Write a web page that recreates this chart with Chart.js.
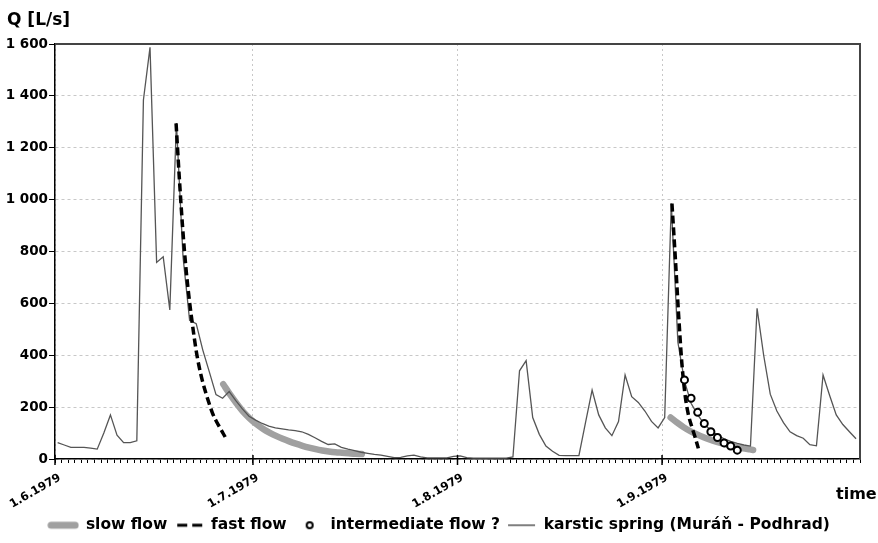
<!DOCTYPE html>
<html>
<head>
<meta charset="utf-8">
<script src="https://cdn.jsdelivr.net/npm/chart.js@4.4.0/dist/chart.umd.min.js"></script>
<style>
html,body{margin:0;padding:0;background:#fff;}
#wrap{width:878px;height:543px;position:relative;}
</style>
</head>
<body>
<div id="wrap"><canvas id="c" width="878" height="543"></canvas></div>
<script>
// ---- data (x = days since 1.6.1979) ----
const monthStartDays = [0, 30, 61, 92];
const monthLabels = ['1.6.1979', '1.7.1979', '1.8.1979', '1.9.1979'];
const axisEndDay = 122;
const yTicks = [0, 200, 400, 600, 800, 1000, 1200, 1400, 1600];

// karstic spring (Muráň - Podhrad), daily discharge 1.6. - 30.9.1979 [L/s]
const springFirstDay = 0.4;
const springQ = [
  63, 54, 45, 45, 45, 42, 38, 100, 170, 92,
  63, 63, 70, 1384, 1587, 758, 780, 575, 1295, 780,
  535, 522, 420, 335, 248, 234, 260, 225, 193, 165,
  150, 137, 127, 120, 116, 112, 109, 105, 95, 82,
  68, 56, 58, 45, 38, 32, 26, 22, 18, 15,
  10, 5, 6, 12, 15, 8, 4, 4, 4, 4,
  10, 12, 5, 3, 3, 3, 3, 3, 3, 8,
  340, 379, 160, 95, 50, 30, 14, 13, 13, 13,
  140, 266, 170, 120, 90, 144, 324, 240, 218, 185,
  145, 120, 160, 985, 450, 300, 215, 170, 135, 110,
  92, 78, 68, 60, 54, 50, 581, 400, 250, 185,
  140, 105, 90, 80, 55, 51, 324, 245, 170, 133,
  105, 78
];

// slow flow (recession, July)
const slowJulDays = [25.5, 26.5, 27.5, 28.5, 29.5, 30.5, 31.5, 32.5, 33.5, 34.5, 35.5,
                     36.5, 37.5, 38.5, 39.5, 40.5, 41.5, 42.5, 43.5, 44.5, 45.5, 46.5];
const slowJulQ = [288, 250, 215, 183, 157, 135, 117, 102, 89, 78, 68,
                  59, 51, 44, 38, 33, 29, 26, 24, 22, 20, 19];
// slow flow (recession, September)
const slowSepDays = [93.3, 94.3, 95.3, 96.3, 97.3, 98.3, 99.3, 100.3, 101.3, 102.3, 103.3, 104.3, 105.3, 105.8];
const slowSepQ = [160, 140, 122, 107, 95, 84, 74, 66, 59, 52, 46, 41, 37, 35];

// fast flow (June)
const fastJunDays = [18.35, 18.85, 19.35, 19.85, 20.35, 20.85, 21.35, 21.85,
                     22.35, 22.85, 23.35, 23.85, 24.35, 24.85, 25.35, 25.85];
const fastJunQ = [1294, 1080, 890, 735, 615, 515, 425, 355, 300, 255, 215, 178, 150, 127, 105, 82];
// fast flow (September)
const fastSepDays = [93.5, 94.0, 94.5, 95.0, 95.5, 96.0, 96.5, 97.0, 97.5];
const fastSepQ = [985, 780, 560, 370, 245, 170, 125, 85, 41];

// intermediate flow ? (September)
const interDays = [95.4, 96.4, 97.4, 98.4, 99.4, 100.4, 101.4, 102.4, 103.4];
const interQ = [305, 234, 180, 137, 105, 83, 62, 50, 34];

const legendNames = ['slow flow', 'fast flow', 'intermediate flow ?', 'karstic spring (Muráň - Podhrad)'];

// ---- helpers ----
const pts = (xs, ys) => xs.map((x, i) => ({x: x, y: ys[i]}));
const gapAfter = (a, b) => a.concat([{x: (a[a.length - 1].x + b[0].x) / 2, y: null}], b);

const springData = springQ.map((q, i) => ({x: springFirstDay + i, y: q}));
const slowData = gapAfter(pts(slowJulDays, slowJulQ), pts(slowSepDays, slowSepQ));
const fastData = gapAfter(pts(fastJunDays, fastJunQ), pts(fastSepDays, fastSepQ));
const interData = pts(interDays, interQ);

function symbol(draw) {
  const c = document.createElement('canvas');
  c.width = 32; c.height = 12;
  const g = c.getContext('2d');
  draw(g);
  return c;
}
const legendSymbols = [
  symbol(g => { g.strokeStyle = '#a0a0a0'; g.lineWidth = 7; g.lineCap = 'round'; g.beginPath(); g.moveTo(4, 6); g.lineTo(28, 6); g.stroke(); }),
  symbol(g => { g.strokeStyle = '#000'; g.lineWidth = 3; g.setLineDash([10, 5]); g.beginPath(); g.moveTo(5, 6); g.lineTo(31, 6); g.stroke(); }),
  symbol(g => { g.strokeStyle = '#000'; g.lineWidth = 2; g.fillStyle = '#fff'; g.beginPath(); g.arc(18, 6, 3, 0, Math.PI * 2); g.fill(); g.stroke(); }),
  symbol(g => { g.strokeStyle = '#555'; g.lineWidth = 1.5; g.beginPath(); g.moveTo(3, 6); g.lineTo(30, 6); g.stroke(); })
];

const fmtThousands = v => v >= 1000 ? Math.floor(v / 1000) + ' ' + String(v % 1000).padStart(3, '0') : String(v);

const plotBottom = 459;

const decor = {
  id: 'decor',
  afterDraw(chart) {
    const {ctx, chartArea: a} = chart;
    ctx.save();
    ctx.strokeStyle = '#444';
    ctx.lineWidth = 2;
    ctx.beginPath();
    ctx.moveTo(a.left, a.top);
    ctx.lineTo(a.right, a.top);
    ctx.lineTo(a.right, a.bottom);
    ctx.stroke();
    // major ticks crossing the axis
    const xs = chart.scales.x;
    ctx.strokeStyle = '#000';
    ctx.lineWidth = 1.5;
    monthStartDays.forEach(d => {
      const px = xs.getPixelForValue(d);
      ctx.beginPath(); ctx.moveTo(px, a.bottom - 4); ctx.lineTo(px, a.bottom + 6); ctx.stroke();
    });
    ctx.fillStyle = '#000';
    ctx.textBaseline = 'alphabetic';
    ctx.textAlign = 'left';
    ctx.font = 'bold 17px "DejaVu Sans"';
    ctx.fillText('Q [L/s]', 7, 25);
    ctx.font = 'bold 16px "DejaVu Sans"';
    ctx.fillText('time', 836, 499);
    ctx.restore();
  }
};

Chart.defaults.font.family = '"DejaVu Sans"';

new Chart(document.getElementById('c'), {
  type: 'line',
  data: {
    datasets: [
      {label: legendNames[0], data: slowData, borderColor: '#a0a0a0', borderWidth: 6.5, borderCapStyle: 'round', borderJoinStyle: 'round', pointRadius: 0, cubicInterpolationMode: 'monotone', spanGaps: false, order: 3},
      {label: legendNames[1], data: fastData, borderColor: '#000', borderWidth: 3.5, borderDash: [8, 4], pointRadius: 0, cubicInterpolationMode: 'monotone', spanGaps: false, order: 1},
      {label: legendNames[2], data: interData, showLine: false, pointRadius: 3.5, pointBorderWidth: 2, pointBorderColor: '#000', pointBackgroundColor: '#fff', order: 0},
      {label: legendNames[3], data: springData, borderColor: '#555', borderWidth: 1.3, pointRadius: 0, tension: 0, order: 2}
    ]
  },
  options: {
    responsive: false,
    animation: false,
    devicePixelRatio: 1,
    layout: {padding: {top: 44, right: 0, left: 0, bottom: 0}},
    plugins: {
      tooltip: {enabled: false},
      legend: {
        position: 'bottom',
        labels: {
          usePointStyle: true,
          pointStyleWidth: 30,
          padding: 6,
          color: '#000',
          font: {size: 15.5, weight: 'bold'},
          generateLabels: () => legendNames.map((t, i) => ({
            text: t, pointStyle: legendSymbols[i], fillStyle: '#000', strokeStyle: '#000',
            lineWidth: 0, hidden: false, datasetIndex: i, fontColor: '#000'
          }))
        }
      }
    },
    scales: {
      x: {
        type: 'linear',
        min: 0,
        max: axisEndDay,
        afterBuildTicks: s => { const t = []; for (let d = 0; d <= axisEndDay; d++) t.push({value: d}); s.ticks = t; },
        afterFit: s => {
          const lh = s.chart.legend ? s.chart.legend.height : 31.5;
          s.height = s.chart.height - lh - plotBottom;
          s.paddingLeft = 0; s.paddingRight = 18;
        },
        ticks: {
          autoSkip: false, minRotation: 30, maxRotation: 30, color: '#000', padding: 8, labelOffset: 5,
          font: {size: 11.5, weight: 'bold'},
          callback: v => { const k = monthStartDays.indexOf(v); return k >= 0 ? monthLabels[k] : ''; }
        },
        grid: {
          color: c => (c.tick && monthStartDays.indexOf(c.tick.value) >= 0) ? '#c8c8c8' : 'rgba(0,0,0,0)',
          tickColor: '#000', tickLength: 4, tickBorderDash: [], lineWidth: 1
        },
        border: {color: '#000', width: 1.5, dash: [2, 3]}
      },
      y: {
        min: 0,
        max: 1600,
        afterBuildTicks: s => { s.ticks = yTicks.map(v => ({value: v})); },
        afterFit: s => { s.width = 55; },
        ticks: {color: '#000', padding: 1, font: {size: 13.5, weight: 'bold'}, callback: v => fmtThousands(v)},
        grid: {color: '#c8c8c8', tickColor: '#000', tickLength: 6, tickBorderDash: [], lineWidth: 1},
        border: {color: '#000', width: 1.5, dash: [3, 3]}
      }
    }
  },
  plugins: [decor]
});
</script>
</body>
</html>
